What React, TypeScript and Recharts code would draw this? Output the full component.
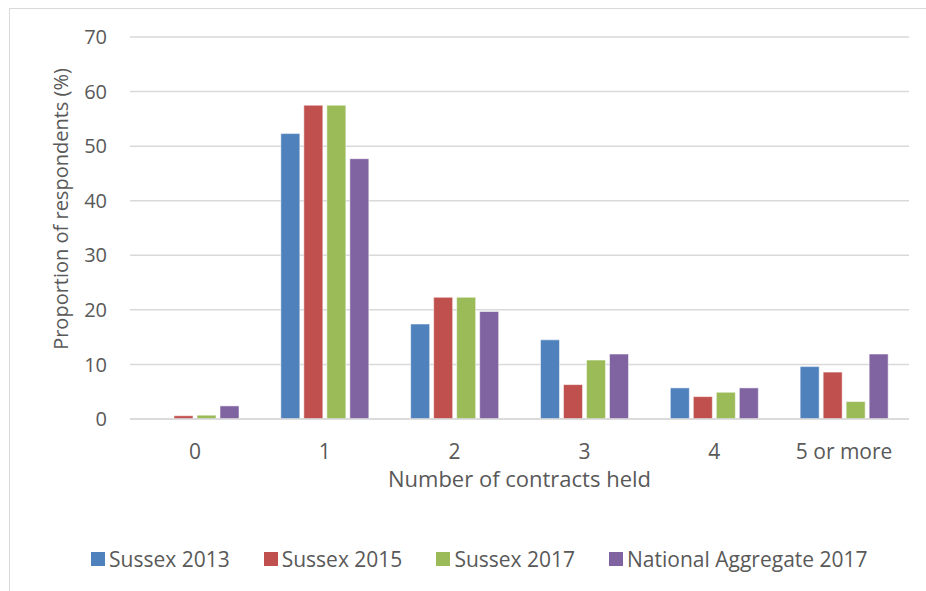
import { BarChart, Bar, XAxis, YAxis, CartesianGrid } from "recharts";

const categories = ["0", "1", "2", "3", "4", "5 or more"];
const sussex2013 = [0, 52.3, 17.4, 14.5, 5.7, 9.6];
const sussex2015 = [0.6, 57.5, 22.3, 6.3, 4.1, 8.6];
const sussex2017 = [0.7, 57.5, 22.3, 10.8, 4.9, 3.2];
const national2017 = [2.4, 47.7, 19.7, 11.9, 5.7, 11.9];
const yTicks = [0, 10, 20, 30, 40, 50, 60, 70];

const series = [
    { key: "s2013", name: "Sussex 2013", color: "#4F81BD" },
    { key: "s2015", name: "Sussex 2015", color: "#C0504D" },
    { key: "s2017", name: "Sussex 2017", color: "#9BBB59" },
    { key: "nat2017", name: "National Aggregate 2017", color: "#8064A2" },
];

const data = categories.map((name, i) => ({
    name,
    s2013: sussex2013[i],
    s2015: sussex2015[i],
    s2017: sussex2017[i],
    nat2017: national2017[i],
}));

const FONT = "'Open Sans', sans-serif";
const TEXT = "#595959";

function YLabel() {
    const cx = 68;
    const cy = 209;
    return (
        <text
            x={cx}
            y={cy}
            transform={`rotate(-90, ${cx}, ${cy})`}
            textAnchor="middle"
            fill={TEXT}
            fontSize={20}
            fontFamily={FONT}
        >
            Proportion of respondents (%)
        </text>
    );
}

function XLabel(props: any) {
    const { viewBox } = props;
    return (
        <text
            x={viewBox.x + viewBox.width / 2}
            y={viewBox.y + 68}
            textAnchor="middle"
            fill={TEXT}
            fontSize={22}
            fontFamily={FONT}
        >
            Number of contracts held
        </text>
    );
}

export default function App() {
    return (
        <div style={{ position: "relative", width: 926, height: 591, background: "#fff", overflow: "hidden" }}>
            <style>{`body { margin: 0; }`}</style>
            <div
                style={{
                    position: "absolute",
                    left: 9,
                    top: 8,
                    width: 960,
                    height: 640,
                    borderLeft: "1.5px solid #d9d9d9",
                    borderTop: "1.5px solid #d9d9d9",
                }}
            />
            <BarChart
                width={926}
                height={591}
                data={data}
                margin={{ top: 37, right: 17, left: 0, bottom: 92 }}
                barSize={19}
                barGap={4}
            >
                <CartesianGrid vertical={false} stroke="#d9d9d9" strokeWidth={1.5} />
                <XAxis
                    dataKey="name"
                    height={80}
                    axisLine={{ stroke: "#d9d9d9", strokeWidth: 1.5 }}
                    tickLine={false}
                    tickSize={0}
                    tickMargin={25}
                    tick={{ fill: TEXT, fontSize: 21, fontFamily: FONT }}
                    label={<XLabel />}
                />
                <YAxis
                    width={130}
                    domain={[0, 70]}
                    ticks={yTicks}
                    axisLine={false}
                    tickLine={false}
                    tickSize={0}
                    tickMargin={23}
                    tick={{ fill: TEXT, fontSize: 20, fontFamily: FONT }}
                    label={<YLabel />}
                />
                {series.map((s) => (
                    <Bar
                        key={s.key}
                        dataKey={s.key}
                        name={s.name}
                        fill={s.color}
                        stroke="rgba(255,255,255,0.5)"
                        strokeWidth={1}
                        isAnimationActive={false}
                    />
                ))}
            </BarChart>
            <div
                style={{
                    position: "absolute",
                    left: 91,
                    top: 545,
                    display: "flex",
                    alignItems: "center",
                    fontFamily: FONT,
                    fontSize: 21,
                    color: TEXT,
                    whiteSpace: "nowrap",
                }}
            >
                {series.map((s) => (
                    <div key={s.key} style={{ display: "flex", alignItems: "center", marginRight: 34 }}>
                        <span style={{ width: 14, height: 14, background: s.color, marginRight: 4 }} />
                        <span>{s.name}</span>
                    </div>
                ))}
            </div>
        </div>
    );
}
